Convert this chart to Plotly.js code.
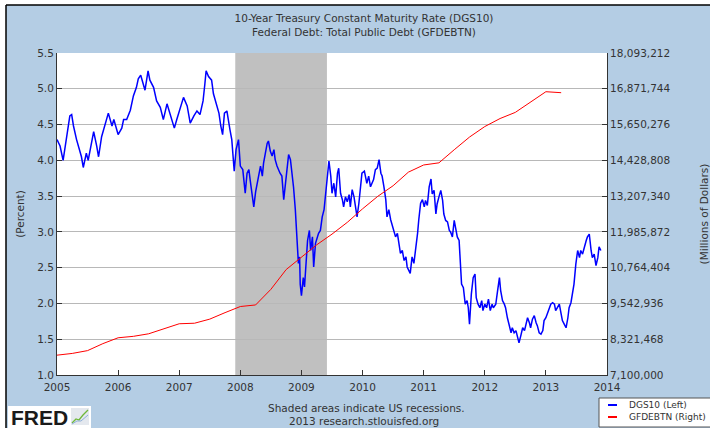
<!DOCTYPE html>
<html>
<head>
<meta charset="utf-8">
<script src="https://cdn.plot.ly/plotly-3.0.1.min.js"></script>
<style>
  html, body { margin: 0; padding: 0; background: #ffffff; }
  #chart { width: 710px; height: 428px; }
</style>
</head>
<body>
<div id="chart"></div>
<script>
// ---- Data ----
// 10-Year Treasury Constant Maturity Rate (DGS10), percent, decimal-year positions
const dgs10Years = [
  2005.00,2005.05,2005.10,2005.16,2005.21,2005.24,2005.27,2005.32,2005.40,2005.43,
  2005.48,2005.51,2005.57,2005.60,2005.65,2005.68,2005.73,2005.79,2005.84,2005.90,
  2005.93,2006.00,2006.06,2006.09,2006.14,2006.20,2006.25,2006.30,2006.33,2006.37,
  2006.42,2006.44,2006.49,2006.52,2006.58,2006.63,2006.69,2006.74,2006.80,2006.85,
  2006.92,2006.96,2007.02,2007.07,2007.13,2007.18,2007.24,2007.29,2007.34,2007.39,
  2007.42,2007.44,2007.48,2007.53,2007.56,2007.60,2007.65,2007.68,2007.71,2007.74,
  2007.78,2007.83,2007.86,2007.90,2007.93,2007.97,2008.00,2008.04,2008.08,2008.11,
  2008.14,2008.16,2008.19,2008.22,2008.25,2008.30,2008.33,2008.36,2008.38,2008.41,
  2008.44,2008.46,2008.49,2008.52,2008.55,2008.57,2008.60,2008.65,2008.68,2008.71,
  2008.74,2008.77,2008.79,2008.82,2008.85,2008.87,2008.90,2008.93,2008.95,2008.97,
  2008.98,2009.00,2009.03,2009.05,2009.08,2009.10,2009.13,2009.15,2009.18,2009.20,
  2009.23,2009.26,2009.28,2009.31,2009.34,2009.37,2009.39,2009.42,2009.45,2009.48,
  2009.50,2009.53,2009.56,2009.59,2009.61,2009.64,2009.67,2009.69,2009.72,2009.75,
  2009.78,2009.80,2009.83,2009.86,2009.89,2009.91,2009.94,2009.97,2009.99,2010.03,
  2010.07,2010.10,2010.13,2010.18,2010.21,2010.24,2010.27,2010.30,2010.32,2010.35,
  2010.38,2010.40,2010.43,2010.46,2010.49,2010.51,2010.54,2010.57,2010.60,2010.62,
  2010.65,2010.68,2010.71,2010.73,2010.78,2010.81,2010.84,2010.87,2010.90,2010.92,
  2010.95,2010.98,2011.01,2011.03,2011.06,2011.09,2011.12,2011.14,2011.17,2011.20,
  2011.22,2011.25,2011.28,2011.31,2011.33,2011.36,2011.39,2011.42,2011.44,2011.47,
  2011.50,2011.53,2011.55,2011.58,2011.61,2011.62,2011.65,2011.68,2011.71,2011.73,
  2011.75,2011.78,2011.81,2011.84,2011.86,2011.89,2011.92,2011.95,2011.97,2012.00,
  2012.03,2012.06,2012.09,2012.12,2012.14,2012.18,2012.21,2012.24,2012.26,2012.29,
  2012.32,2012.34,2012.37,2012.40,2012.43,2012.45,2012.48,2012.51,2012.54,2012.56,
  2012.59,2012.62,2012.65,2012.67,2012.70,2012.73,2012.75,2012.78,2012.81,2012.84,
  2012.86,2012.89,2012.92,2012.95,2012.97,2013.00,2013.03,2013.05,2013.08,2013.11,
  2013.14,2013.16,2013.19,2013.22,2013.25,2013.27,2013.30,2013.33,2013.36,2013.38,
  2013.41,2013.44,2013.46,2013.49,2013.52,2013.55,2013.57,2013.60,2013.63,2013.66,
  2013.68,2013.71,2013.74,2013.76,2013.79,2013.82,2013.85,2013.87,2013.90
];
const dgs10Values = [
  4.29,4.20,4.00,4.33,4.62,4.64,4.48,4.29,4.05,3.90,
  4.10,4.00,4.29,4.40,4.20,4.05,4.33,4.50,4.66,4.48,
  4.57,4.36,4.45,4.57,4.57,4.70,4.90,5.02,5.14,5.19,
  5.02,4.98,5.25,5.12,5.02,4.83,4.74,4.57,4.79,4.66,
  4.45,4.57,4.74,4.88,4.76,4.52,4.62,4.69,4.64,4.83,
  5.07,5.25,5.17,5.12,4.93,4.79,4.66,4.48,4.36,4.66,
  4.69,4.43,4.29,3.85,4.15,4.29,3.92,3.87,3.54,3.82,
  3.87,3.73,3.54,3.35,3.56,3.82,3.92,3.78,3.96,4.10,
  4.24,4.27,4.13,4.06,4.15,4.01,3.92,3.82,3.78,3.45,
  3.73,3.92,4.08,4.01,3.82,3.63,3.31,2.93,2.56,2.65,
  2.27,2.11,2.36,2.23,2.60,2.88,3.02,2.74,2.93,2.51,
  2.84,2.93,2.98,3.02,3.21,3.31,3.49,3.73,3.99,3.78,
  3.54,3.68,3.49,3.82,3.89,3.54,3.45,3.35,3.49,3.42,
  3.52,3.35,3.59,3.49,3.31,3.21,3.40,3.68,3.82,3.85,
  3.68,3.78,3.63,3.73,3.87,3.89,4.01,3.82,3.78,3.63,
  3.45,3.21,3.31,3.17,3.07,3.02,2.93,2.98,2.79,2.70,
  2.74,2.60,2.65,2.51,2.42,2.65,2.56,2.74,2.98,3.17,
  3.40,3.45,3.35,3.44,3.37,3.63,3.74,3.53,3.58,3.25,
  3.39,3.49,3.58,3.44,3.25,3.16,3.14,3.02,3.00,2.93,
  3.16,3.02,2.93,2.88,2.36,2.27,2.22,1.99,2.04,1.94,
  1.71,2.13,2.36,2.41,2.08,1.99,1.94,2.04,1.90,1.99,
  1.94,2.06,1.90,1.99,1.94,1.99,2.18,2.36,2.18,2.04,
  1.99,1.94,1.80,1.71,1.59,1.66,1.59,1.62,1.52,1.45,
  1.55,1.66,1.62,1.71,1.80,1.73,1.66,1.78,1.83,1.73,
  1.69,1.59,1.57,1.62,1.76,1.80,1.87,1.94,1.99,2.01,
  1.99,1.90,1.94,1.99,1.85,1.76,1.71,1.66,1.80,1.94,
  2.01,2.18,2.27,2.55,2.74,2.64,2.74,2.69,2.81,2.88,
  2.93,2.97,2.74,2.64,2.69,2.53,2.64,2.79,2.74
];

// Federal Debt: Total Public Debt (GFDEBTN), millions of dollars, quarterly
const debtYears = [
  2005.00,2005.25,2005.50,2005.75,2006.00,2006.25,2006.50,2006.75,
  2007.00,2007.25,2007.50,2007.75,2008.00,2008.25,2008.50,2008.75,
  2009.00,2009.25,2009.50,2009.75,2010.00,2010.25,2010.50,2010.75,
  2011.00,2011.25,2011.50,2011.75,2012.00,2012.25,2012.50,2012.75,
  2013.00,2013.25
];
const debtValues = [
  7776939,7836496,7932710,8170424,8371156,8420042,8507024,8680224,
  8849665,8867673,9007653,9229172,9437594,9492006,10024725,10699805,
  11126941,11545275,11909829,12311350,12773123,13201790,13561623,14025215,
  14270114,14343088,14790340,15222940,15582079,15855524,16066241,16432730,
  16771600,16738184
];

// Axis ticks
const yearTicks = [2005,2006,2007,2008,2009,2010,2011,2012,2013,2014];
const percentTicks = [1.0,1.5,2.0,2.5,3.0,3.5,4.0,4.5,5.0,5.5];
const debtTicks = [7100000,8321468,9542936,10764404,11985872,13207340,14428808,15650276,16871744,18093212];

// Recession (shaded)
const recessionStart = 2007.917;
const recessionEnd = 2009.417;

// Text
const titleLines = ['10-Year Treasury Constant Maturity Rate (DGS10)', 'Federal Debt: Total Public Debt (GFDEBTN)'];
const seriesNames = ['DGS10 (Left)', 'GFDEBTN (Right)'];
const footerLines = ['Shaded areas indicate US recessions.', '2013 research.stlouisfed.org'];

// ---- Layout helpers (pixel -> paper) ----
const W = 710, H = 428;
const M = {l: 57, r: 103, t: 53, b: 53};
const PW = W - M.l - M.r, PH = H - M.t - M.b;
const px = x => (x - M.l) / PW;
const py = y => (H - M.b - y) / PH;

const FONT = 'DejaVu Sans, Verdana, sans-serif';
const TXT = '#333333';
const BG = '#b4cde4';

const traces = [
  {
    x: dgs10Years, y: dgs10Values, type: 'scatter', mode: 'lines',
    name: seriesNames[0], line: {color: '#0000ff', width: 1.5}, yaxis: 'y'
  },
  {
    x: debtYears, y: debtValues, type: 'scatter', mode: 'lines',
    name: seriesNames[1], line: {color: '#ff0000', width: 1}, yaxis: 'y2'
  }
];

const shapes = [
  // recession
  {type: 'rect', xref: 'x', yref: 'paper', x0: recessionStart, x1: recessionEnd, y0: 0, y1: 1,
   fillcolor: '#c0c0c0', line: {width: 0}, layer: 'below'},
  // white margins outside frame
  {type: 'rect', xref: 'paper', yref: 'paper', x0: px(-5), x1: px(6), y0: py(440), y1: py(-5),
   fillcolor: '#ffffff', line: {width: 0}},
  {type: 'rect', xref: 'paper', yref: 'paper', x0: px(-5), x1: px(720), y0: py(5), y1: py(-5),
   fillcolor: '#ffffff', line: {width: 0}},
  // frame lines
  {type: 'line', xref: 'paper', yref: 'paper', x0: px(6), x1: px(6), y0: py(440), y1: py(5),
   line: {color: '#000000', width: 1.5}},
  {type: 'line', xref: 'paper', yref: 'paper', x0: px(6), x1: px(720), y0: py(5), y1: py(5),
   line: {color: '#000000', width: 1.5}},
  // legend box
  {type: 'rect', xref: 'paper', yref: 'paper', x0: px(599), x1: px(715), y0: py(427), y1: py(398),
   fillcolor: '#ffffff', line: {color: '#555555', width: 1}},
  {type: 'line', xref: 'paper', yref: 'paper', x0: px(608), x1: px(617), y0: py(405), y1: py(405),
   line: {color: '#0000ff', width: 2}},
  {type: 'line', xref: 'paper', yref: 'paper', x0: px(608), x1: px(617), y0: py(417), y1: py(417),
   line: {color: '#ff0000', width: 2}},
  // FRED logo background and icon
  {type: 'rect', xref: 'paper', yref: 'paper', x0: px(8), x1: px(91), y0: py(430), y1: py(406),
   fillcolor: '#ffffff', line: {width: 0}},
  {type: 'rect', xref: 'paper', yref: 'paper', x0: px(71), x1: px(89), y0: py(425), y1: py(408),
   fillcolor: '#e4e8ee', line: {width: 0}},
  {type: 'path', xref: 'paper', yref: 'paper',
   path: 'M' + px(72) + ',' + py(423) + ' L' + px(76) + ',' + py(419) + ' L' + px(79) + ',' + py(420) +
         ' L' + px(83) + ',' + py(415) + ' L' + px(88) + ',' + py(410),
   line: {color: '#6fb83a', width: 1.3}},
  {type: 'path', xref: 'paper', yref: 'paper',
   path: 'M' + px(72) + ',' + py(424) + ' L' + px(77) + ',' + py(421) + ' L' + px(81) + ',' + py(421) +
         ' L' + px(88) + ',' + py(415),
   line: {color: '#8fb0d8', width: 1}}
];

const annotations = [
  {text: footerLines[0], xref: 'paper', yref: 'paper', x: px(366), y: py(408), showarrow: false,
   xanchor: 'center', yanchor: 'middle', font: {family: FONT, size: 10.5, color: TXT}},
  {text: footerLines[1], xref: 'paper', yref: 'paper', x: px(364), y: py(420.5), showarrow: false,
   xanchor: 'center', yanchor: 'middle', font: {family: FONT, size: 10.5, color: TXT}},
  {text: seriesNames[0], xref: 'paper', yref: 'paper', x: px(627), y: py(405), showarrow: false,
   xanchor: 'left', yanchor: 'middle', font: {family: FONT, size: 9, color: TXT}},
  {text: seriesNames[1], xref: 'paper', yref: 'paper', x: px(627), y: py(417), showarrow: false,
   xanchor: 'left', yanchor: 'middle', font: {family: FONT, size: 9, color: TXT}},
  {text: '<b>FRED</b>', xref: 'paper', yref: 'paper', x: px(9), y: py(417), showarrow: false,
   xanchor: 'left', yanchor: 'middle',
   font: {family: 'Liberation Sans, Arial, sans-serif', size: 21, color: '#1a1a1a'}}
];

const layout = {
  width: W, height: H,
  margin: M,
  paper_bgcolor: BG,
  plot_bgcolor: '#ffffff',
  showlegend: false,
  font: {family: FONT, size: 10.5, color: TXT},
  title: {
    text: titleLines.join('<br>'),
    font: {family: FONT, size: 10.5, color: TXT},
    x: 364 / W, xanchor: 'center', xref: 'container',
    y: 1 - 22 / H, yanchor: 'top', yref: 'container'
  },
  xaxis: {
    type: 'linear', range: [2005, 2014], tickvals: yearTicks, tickformat: 'd',
    ticks: 'inside', ticklen: 5, tickcolor: '#333333', ticklabelstandoff: 2,
    showline: true, linecolor: '#333333', linewidth: 1,
    showgrid: false, zeroline: false,
    tickfont: {family: FONT, size: 10.5, color: TXT}
  },
  yaxis: {
    range: [1, 5.5], tickvals: percentTicks, tickformat: '.1f',
    ticks: 'inside', ticklen: 5, tickcolor: '#333333',
    showline: true, linecolor: '#333333', linewidth: 1,
    showgrid: true, gridcolor: '#b8b8b8', gridwidth: 1, zeroline: false,
    tickfont: {family: FONT, size: 10.5, color: TXT},
    title: {text: '(Percent)', font: {family: FONT, size: 10.5, color: TXT}, standoff: 10}
  },
  yaxis2: {
    overlaying: 'y', side: 'right',
    range: [7100000, 18093212], tickvals: debtTicks, tickformat: ',d',
    ticks: 'inside', ticklen: 5, tickcolor: '#333333',
    showline: true, linecolor: '#333333', linewidth: 1,
    showgrid: false, zeroline: false,
    tickfont: {family: FONT, size: 10.5, color: TXT},
    title: {text: '(Millions of Dollars)', font: {family: FONT, size: 10.5, color: TXT}, standoff: 31}
  },
  shapes: shapes,
  annotations: annotations
};

Plotly.newPlot('chart', traces, layout, {staticPlot: true, displayModeBar: false});
</script>
</body>
</html>
